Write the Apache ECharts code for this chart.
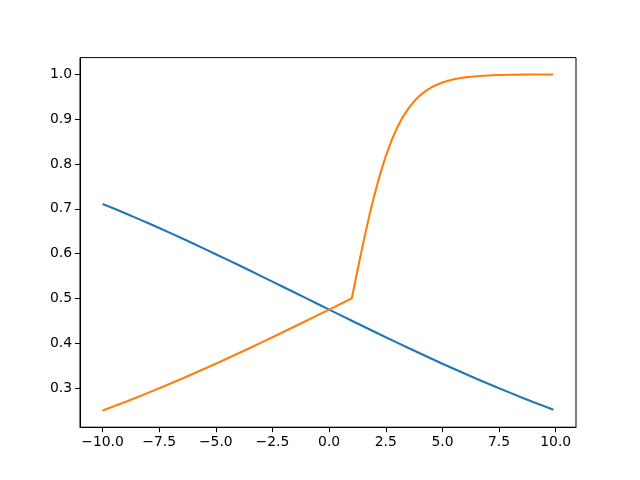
<!DOCTYPE html>
<html>
<head>
<meta charset="utf-8">
<script src="https://cdn.jsdelivr.net/npm/echarts@6/dist/echarts.min.js"></script>
<style>html,body{margin:0;padding:0;background:#fff;}#c{width:640px;height:480px;}</style>
</head>
<body>
<div id="c"></div>
<script>
var xTicks = [-10, -7.5, -5, -2.5, 0, 2.5, 5, 7.5, 10];
var yTicks = [0.3, 0.4, 0.5, 0.6, 0.7, 0.8, 0.9, 1.0];

var blueX = [-10,-9.5,-9,-8.5,-8,-7.5,-7,-6.5,-6,-5.5,-5,-4.5,-4,-3.5,-3,-2.5,-2,-1.5,-1,-0.5,0,0.5,1,1.5,2,2.5,3,3.5,4,4.5,5,5.5,6,6.5,7,7.5,8,8.5,9,9.5,9.9];
var blueY = [0.7109,0.7006,0.6900,0.6792,0.6682,0.6570,0.6457,0.6341,0.6225,0.6106,0.5987,0.5866,0.5744,0.5622,0.5498,0.5374,0.5250,0.5125,0.5000,0.4875,0.4750,0.4626,0.4502,0.4378,0.4256,0.4134,0.4013,0.3894,0.3775,0.3659,0.3543,0.3430,0.3318,0.3208,0.3100,0.2994,0.2891,0.2789,0.2689,0.2592,0.2516];

var orangeX = [-10,-9.5,-9,-8.5,-8,-7.5,-7,-6.5,-6,-5.5,-5,-4.5,-4,-3.5,-3,-2.5,-2,-1.5,-1,-0.5,0,0.5,1,1.25,1.5,1.75,2,2.25,2.5,2.75,3,3.25,3.5,3.75,4,4.25,4.5,4.75,5,5.25,5.5,5.75,6,6.5,7,7.5,8,8.5,9,9.5,9.9];
var orangeY = [0.2497,0.2592,0.2689,0.2789,0.2891,0.2994,0.3100,0.3208,0.3318,0.3430,0.3543,0.3659,0.3775,0.3894,0.4013,0.4134,0.4256,0.4378,0.4502,0.4626,0.4750,0.4875,0.5000,0.5622,0.6225,0.6792,0.7311,0.7773,0.8176,0.8520,0.8808,0.9047,0.9241,0.9399,0.9526,0.9627,0.9707,0.9770,0.9820,0.9859,0.9890,0.9914,0.9933,0.9959,0.9975,0.9985,0.9991,0.9994,0.9997,0.9998,0.9999];

function pairs(xs, ys){ return xs.map(function(x,i){ return [x, ys[i]]; }); }

var chart = echarts.init(document.getElementById('c'), null, {renderer:'canvas'});
var font = 'DejaVu Sans';
chart.setOption({
  animation: false,
  backgroundColor: '#fff',
  grid: {left: 80, right: 64, top: 57.6, bottom: 52.8, show: true, borderColor: '#000', borderWidth: 1, backgroundColor: 'transparent'},
  xAxis: {
    type: 'value', min: -10.995, max: 10.895,
    splitLine: {show: false},
    axisLine: {show: true, onZero: false, lineStyle: {color: '#000', width: 1}},
    axisTick: {show: true, length: 5, customValues: xTicks, lineStyle: {color: '#000', width: 1}},
    axisLabel: {customValues: xTicks, margin: 8, color: '#000', fontFamily: font, fontSize: 13.9,
      formatter: function(v){ var s = Number(v).toFixed(1); return s.replace('-', '\u2212'); }}
  },
  yAxis: {
    type: 'value', min: 0.2125, max: 1.0375,
    splitLine: {show: false},
    axisLine: {show: true, onZero: false, lineStyle: {color: '#000', width: 1}},
    axisTick: {show: true, length: 5, customValues: yTicks, lineStyle: {color: '#000', width: 1}},
    axisLabel: {customValues: yTicks, margin: 8, color: '#000', fontFamily: font, fontSize: 13.9,
      formatter: function(v){ return Number(v).toFixed(1); }}
  },
  series: [
    {type: 'line', data: pairs(blueX, blueY), showSymbol: false, symbol: 'none', lineStyle: {color: '#1f77b4', width: 2.1}, itemStyle: {color: '#1f77b4'}},
    {type: 'line', data: pairs(orangeX, orangeY), showSymbol: false, symbol: 'none', lineStyle: {color: '#ff7f0e', width: 2.1}, itemStyle: {color: '#ff7f0e'}}
  ]
});
</script>
</body>
</html>
